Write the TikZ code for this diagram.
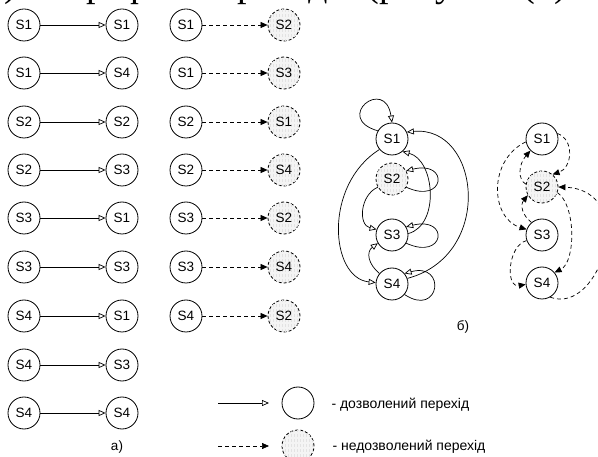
\documentclass[tikz,border=0pt]{standalone}
\usepackage{fontspec}
\usepackage{graphicx}
\setmainfont{Liberation Sans}
\newfontfamily\serifface{Liberation Serif}
\usetikzlibrary{arrows.meta,patterns}
\tikzset{
  st/.style={circle,draw,line width=0.8pt,minimum size=32pt,inner sep=0pt,font=\fontsize{13.5}{14}\selectfont},
  ns/.style={st,dash pattern=on 3pt off 2pt,fill=gray!9,postaction={pattern=vertical lines,pattern color=gray!22}},
  ok/.style={line width=0.7pt,-{Triangle[open,length=7pt,width=6pt]}},
  bad/.style={line width=0.7pt,dash pattern=on 4pt off 3pt,-{Triangle[length=7pt,width=6pt]}},
  lbl/.style={font=\fontsize{13.5}{14}\selectfont},
  leg/.style={anchor=west,font=\fontsize{14}{15}\selectfont},
  toptext/.style={anchor=base west,inner sep=0pt},
}
\begin{document}
\begin{tikzpicture}[x=1pt,y=-1pt]
\useasboundingbox (0,0) rectangle (598,457);
% clipped line of text at the top
\node[toptext] (top) at (-13,-3) {\resizebox{590pt}{!}{\serifface а) та графом переходів (рисунок (б).}};
% --- part a) ---
\foreach \r/\y/\a/\b in {1/25/1/1,2/73/1/4,3/122/2/2,4/170/2/3,5/218/3/1,6/267/3/3,7/316/4/1,8/365/4/3,9/413/4/4}{
  \node[st] (p\r) at (24,\y) {S\a};
  \node[st] (q\r) at (122,\y) {S\b};
  \draw[ok] (p\r) -- (q\r);
}
\foreach \r/\y/\a/\b in {1/25/1/2,2/73/1/3,3/122/2/1,4/170/2/4,5/218/3/2,6/267/3/4,7/316/4/2}{
  \node[st] (u\r) at (186,\y) {S\a};
  \node[ns] (v\r) at (284,\y) {S\b};
  \draw[bad] (u\r) -- (v\r);
}
\node[lbl] (la) at (117,447) {а)};
% --- part b), allowed graph ---
\node[st] (A1) at (392,139) {S1};
\node[ns] (A2) at (392,179) {S2};
\node[st] (A3) at (392,235) {S3};
\node[st] (A4) at (392,284) {S4};
\draw[ok] (A1.150) .. controls (333,118) and (385,76) .. (A1.90);
\draw[ok] (A1.220) .. controls (323,185) and (330,278) .. (A4.175);
\draw[ok] (A4.20) .. controls (495,255) and (480,125) .. (A1.25);
\draw[ok] (A3.5) .. controls (440,225) and (435,160) .. (A1.-50);
\draw[ok] (A2.-30) .. controls (445,205) and (450,160) .. (A2.30);
\draw[ok] (A3.-30) .. controls (445,261) and (450,216) .. (A3.30);
\draw[ok] (A4.-40) .. controls (440,318) and (447,262) .. (A4.40);
\draw[ok] (A2.210) .. controls (360,195) and (358,225) .. (A3.160);
\draw[ok] (A4.140) .. controls (368,264) and (366,252) .. (A3.210);
% --- part b), forbidden graph ---
\node[st] (B1) at (542,139) {S1};
\node[ns] (B2) at (542,187) {S2};
\node[st] (B3) at (542,235) {S3};
\node[st] (B4) at (542,283) {S4};
\draw[bad] (B1.20) .. controls (575,140) and (572,168) .. (B2.50);
\draw[bad] (B1.190) .. controls (488,160) and (490,218) .. (B3.160);
\draw[bad] (B2.170) .. controls (518,180) and (518,165) .. (B1.225);
\draw[bad] (B3.130) .. controls (522,215) and (520,205) .. (B2.210);
\draw[bad] (B2.-20) .. controls (576,205) and (576,262) .. (B4.40);
\draw[bad] (B3.200) .. controls (508,245) and (505,288) .. (B4.185);
\draw[bad] (B4.-60) .. controls (600,316) and (640,190) .. (B2.0);
\node[lbl] (lb) at (463,327) {б)};
% --- legend ---
\coordinate (ga) at (218,403);
\coordinate (gb) at (269,403);
\node[st] (gc) at (298,403) {};
\draw[ok] (ga) -- (gb);
\node[leg] (gt) at (328,405) {- дозволений перехід};
\coordinate (ha) at (218,446);
\coordinate (hb) at (269,446);
\node[ns] (hc) at (298,446) {};
\draw[bad] (ha) -- (hb);
\node[leg] (ht) at (329,447) {- недозволений перехід};
\end{tikzpicture}
\end{document}
